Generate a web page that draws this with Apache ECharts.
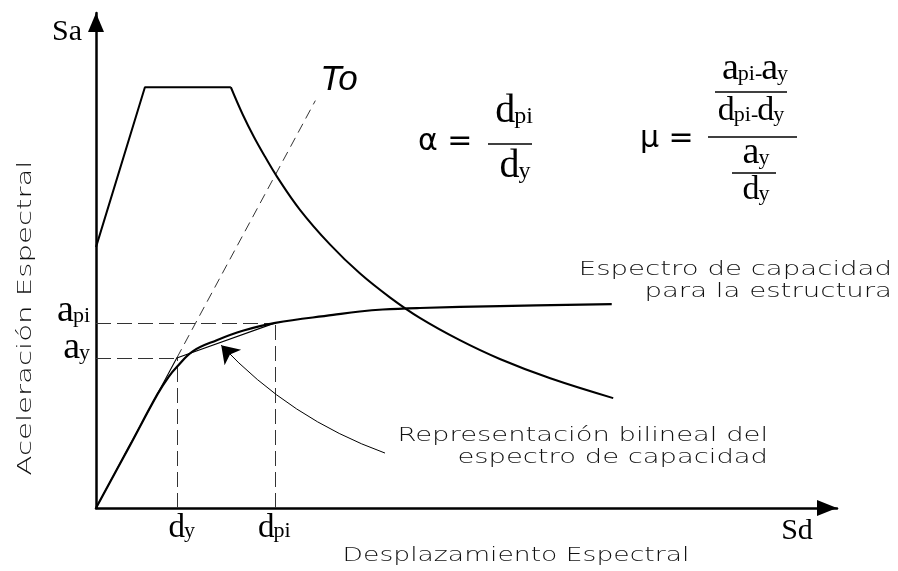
<!DOCTYPE html>
<html>
<head>
<meta charset="utf-8">
<script src="https://cdn.jsdelivr.net/npm/echarts@6/dist/echarts.min.js"></script>
<style>
  html, body { margin: 0; padding: 0; background: #fff; }
  #chart { width: 898px; height: 571px; }
</style>
</head>
<body>
<div id="chart"></div>
<script>
// Spectral displacement (Sd) and spectral acceleration (Sa), relative units 0-100 on both axes.

// Demand spectrum: linear ramp and constant-acceleration plateau
const demandRampSd = [0, 6.6, 18.2];
const demandRampSa = [52.7, 85.0, 85.0];

// Demand spectrum: descending branch
const demandDecaySd = [18.2, 19.8, 21.3, 22.8, 24.4, 27.5, 31.6, 35.6, 39.7, 43.7, 49.1, 54.5, 61.3, 69.8];
const demandDecaySa = [85.0, 79.5, 75.0, 71.0, 67.0, 60.3, 53.2, 47.4, 42.5, 38.4, 33.9, 30.1, 26.2, 22.2];

// Capacity spectrum of the structure
const capacitySd = [0, 4.6, 8.3, 9.8, 10.9, 13.1, 16.3, 19.8, 24.2, 32.0, 35.6, 38.7, 43.7, 54.5, 69.6];
const capacitySa = [0, 12.7, 23.0, 26.5, 28.5, 31.7, 33.9, 35.8, 37.4, 39.0, 39.7, 40.1, 40.4, 40.8, 41.2];

// Bilinear representation: yield point (dy, ay) and performance point (dpi, api)
const dy = 10.9, ay = 30.3;
const dpi = 24.2, api = 37.4;

// Upper end of the initial-stiffness line (To)
const toEnd = [29.6, 82.3];

// Leader arrow pointing at the bilinear representation: tail, head
const arrowTail = [39.0, 11.1];
const arrowHead = [16.9, 32.9];

const zip = (xs, ys) => xs.map((x, i) => [x, ys[i]]);

const SERIF = 'Liberation Serif';
const SANS = 'DejaVu Sans';
const INK = '#000';
const SERIF_MID = 0.3375;   // distance from the 'middle' text baseline to the alphabetic baseline, in em

const chart = echarts.init(document.getElementById('chart'), null, { renderer: 'canvas' });

chart.setOption({
  animation: false,
  backgroundColor: '#fff',
  grid: { left: 96, right: 61, top: 13, bottom: 63, outerBoundsMode: 'none', containLabel: false },
  xAxis: {
    type: 'value', min: 0, max: 100,
    splitLine: { show: false }, axisTick: { show: false }, axisLabel: { show: false },
    axisLine: {
      onZero: false,
      lineStyle: { color: INK, width: 2.5 },
      symbol: ['none', 'triangle'], symbolSize: [16, 20], symbolOffset: [0, -10]
    }
  },
  yAxis: {
    type: 'value', min: 0, max: 100,
    splitLine: { show: false }, axisTick: { show: false }, axisLabel: { show: false },
    axisLine: {
      onZero: false,
      lineStyle: { color: INK, width: 2.5 },
      symbol: ['none', 'triangle'], symbolSize: [16, 19], symbolOffset: [0, -9.5]
    }
  },
  series: [
    { type: 'line', data: zip(demandRampSd, demandRampSa), symbol: 'none',
      lineStyle: { color: INK, width: 2 } },
    { type: 'line', data: zip(demandDecaySd, demandDecaySa), symbol: 'none', smooth: 0.4,
      lineStyle: { color: INK, width: 2 } },
    { type: 'line', data: zip(capacitySd, capacitySa), symbol: 'none', smooth: 0.4,
      lineStyle: { color: INK, width: 2.2 } },
    { type: 'line', data: [[0, 0], [dy, ay], [dpi, api]], symbol: 'none',
      lineStyle: { color: INK, width: 1.1 } },
    { type: 'lines', coordinateSystem: 'cartesian2d', silent: true,
      data: [
        { coords: [[0, ay], [dy, ay]] },
        { coords: [[dy, 0], [dy, ay]] },
        { coords: [[0, api], [dpi, api]] },
        { coords: [[dpi, 0], [dpi, api]] }
      ],
      lineStyle: { color: '#333', width: 1, opacity: 1, type: [15, 6] } },
    { type: 'lines', coordinateSystem: 'cartesian2d', silent: true,
      data: [{ coords: [[dy, ay], toEnd] }],
      lineStyle: { color: '#333', width: 1, opacity: 1, type: [10, 6] } },
    { type: 'lines', coordinateSystem: 'cartesian2d', silent: true,
      data: [{ coords: [arrowTail, arrowHead] }],
      symbol: ['none', 'arrow'], symbolSize: 17,
      itemStyle: { color: INK, opacity: 1 },
      lineStyle: { color: INK, width: 1, opacity: 1, curveness: 0.12 } }
  ]
});

// ---- text helpers -------------------------------------------------------
const measureCtx = document.createElement('canvas').getContext('2d');
function textWidth(str, size) {
  measureCtx.font = size + "px '" + SERIF + "'";
  return measureCtx.measureText(str).width;
}

// A large letter with smaller trailing letters, all sharing one alphabetic baseline
function subLabel(parts, x, baseline, align) {
  const kern = -1;
  const widths = parts.map(p => textWidth(p[0], p[1]));
  const total = widths.reduce((a, b) => a + b, 0) + kern * (parts.length - 1);
  let left = align === 'center' ? x - total / 2 : align === 'right' ? x - total : x;
  const children = parts.map((p, i) => {
    const el = {
      type: 'text', x: left, y: baseline - SERIF_MID * p[1], silent: true,
      style: { text: p[0], fontFamily: SERIF, fontSize: p[1], fill: INK, align: 'left', verticalAlign: 'middle' }
    };
    left += widths[i] + kern;
    return el;
  });
  return { type: 'group', children: children };
}
function bar(x1, x2, y) {
  return { type: 'line', silent: true, shape: { x1: x1, y1: y, x2: x2, y2: y }, style: { stroke: INK, lineWidth: 1.3 } };
}
function caption(text, x, y, scale, style, extra) {
  return Object.assign({
    type: 'text', x: x, y: y, silent: true, scaleX: scale,
    style: Object.assign({ text: text, fontFamily: SANS, fontSize: 20, fontWeight: 200, fill: '#111', lineHeight: 22 }, style)
  }, extra || {});
}

// marker labels placed through the axis scales
const pDy = chart.convertToPixel({ gridIndex: 0 }, [dy, ay]);
const pDpi = chart.convertToPixel({ gridIndex: 0 }, [dpi, api]);
const origin = chart.convertToPixel({ gridIndex: 0 }, [0, 0]);

chart.setOption({
  graphic: [
    // marker labels on the axes
    subLabel([['d', 33], ['y', 22]], pDy[0] + 5, origin[1] + 31, 'center'),
    subLabel([['d', 33], ['pi', 22]], pDpi[0] - 1, origin[1] + 31, 'center'),
    subLabel([['a', 38], ['y', 22]], origin[0] - 6, pDy[1] + 3, 'right'),
    subLabel([['a', 38], ['pi', 22]], origin[0] - 6, pDpi[1] + 1, 'right'),

    // axis symbols
    { type: 'text', x: 67, y: 32, silent: true,
      style: { text: 'Sa', fontFamily: SERIF, fontSize: 30, fill: INK, align: 'center', verticalAlign: 'middle' } },
    { type: 'text', x: 797, y: 531, silent: true,
      style: { text: 'Sd', fontFamily: SERIF, fontSize: 30, fill: INK, align: 'center', verticalAlign: 'middle' } },
    { type: 'text', x: 339, y: 80, silent: true,
      style: { text: 'To', fontFamily: 'Liberation Sans', fontStyle: 'italic', fontSize: 35, fill: INK, align: 'center', verticalAlign: 'middle' } },

    // axis titles
    caption('Aceleración Espectral', 26, 318, 1.46, { align: 'center', verticalAlign: 'middle' }, { rotation: Math.PI / 2 }),
    caption('Desplazamiento Espectral', 516, 556, 1.33, { align: 'center', verticalAlign: 'middle' }),

    // curve captions
    caption('Espectro de capacidad\npara la estructura', 892, 259, 1.38, { align: 'right', verticalAlign: 'top' }),
    caption('Representación bilineal del\nespectro de capacidad', 768, 425, 1.37, { align: 'right', verticalAlign: 'top' }),

    // alpha = dpi / dy
    { type: 'text', x: 418, y: 142.6, silent: true,
      style: { text: 'α =', fontFamily: SANS, fontSize: 30, fill: INK, align: 'left', verticalAlign: 'middle' } },
    subLabel([['d', 40], ['pi', 24]], 514, 125, 'center'),
    bar(488, 532, 144),
    subLabel([['d', 40], ['y', 24]], 515, 180, 'center'),

    // mu = ((api - ay) / (dpi - dy)) / (ay / dy)
    { type: 'text', x: 640, y: 139.6, silent: true,
      style: { text: 'μ =', fontFamily: SANS, fontSize: 30, fill: INK, align: 'left', verticalAlign: 'middle' } },
    subLabel([['a', 38], ['pi-', 22], ['a', 38], ['y', 22]], 755, 82, 'center'),
    bar(715, 787, 92),
    subLabel([['d', 34], ['pi-', 22], ['d', 34], ['y', 22]], 751, 123, 'center'),
    bar(708, 797, 137),
    subLabel([['a', 38], ['y', 22]], 756, 166, 'center'),
    bar(732, 776, 173),
    subLabel([['d', 34], ['y', 22]], 756, 202, 'center')
  ]
});
</script>
</body>
</html>
